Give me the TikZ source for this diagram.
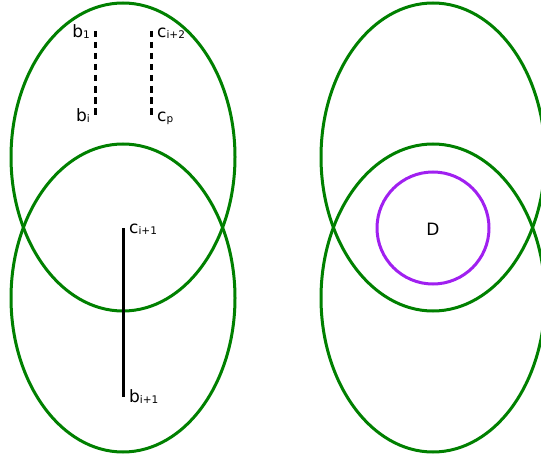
\documentclass[tikz,border=0pt]{standalone}
\usepackage{fontspec}
\setmainfont{DejaVu Sans}
\newcommand{\lbl}[2]{{\fontsize{17}{17}\selectfont #1}\raisebox{-1pt}{\fontsize{10.5}{10.5}\selectfont #2}}
\begin{document}
\begin{tikzpicture}[x=1pt,y=-1pt,
  ring/.style={draw={rgb,255:red,0;green,128;blue,0}, line width=3pt},
  seg/.style={draw=black, line width=3pt},
  dashseg/.style={seg, dash pattern=on 6.5pt off 4.5pt},
  lab/.style={inner sep=0pt, text=black}]
\useasboundingbox (0,0) rectangle (541,460);
% left ellipses
\draw[ring] (123,157) ellipse [x radius=112, y radius=154];
\draw[ring] (123,298) ellipse [x radius=112, y radius=154];
% right ellipses
\draw[ring] (433,157) ellipse [x radius=112, y radius=154];
\draw[ring] (433,298) ellipse [x radius=112, y radius=154];
% circle D
\draw[line width=3pt, draw={rgb,255:red,160;green,32;blue,240}] (433,228) circle [radius=56];
\node[lab] (D) at (433,229) {\fontsize{17}{17}\selectfont D};
% segments
\coordinate (b1) at (95,31);
\coordinate (bi) at (95,116);
\coordinate (ci2) at (151,31);
\coordinate (cp) at (151,116);
\coordinate (ci1) at (123,228);
\coordinate (bi1) at (123,397);
\draw[dashseg] (b1) -- (bi);
\draw[dashseg] (ci2) -- (cp);
\draw[seg] (ci1) -- (bi1);
% labels
\node[lab, anchor=east] (lb1) at (90,32) {\lbl{b}{1}};
\node[lab, anchor=east] (lbi) at (90,116) {\lbl{b}{i}};
\node[lab, anchor=west] (lci2) at (157,33) {\lbl{c}{i+2}};
\node[lab, anchor=west] (lcp) at (157,118) {\lbl{c}{p}};
\node[lab, anchor=west] (lci1) at (129,229) {\lbl{c}{i+1}};
\node[lab, anchor=west] (lbi1) at (129,397) {\lbl{b}{i+1}};
\end{tikzpicture}
\end{document}
